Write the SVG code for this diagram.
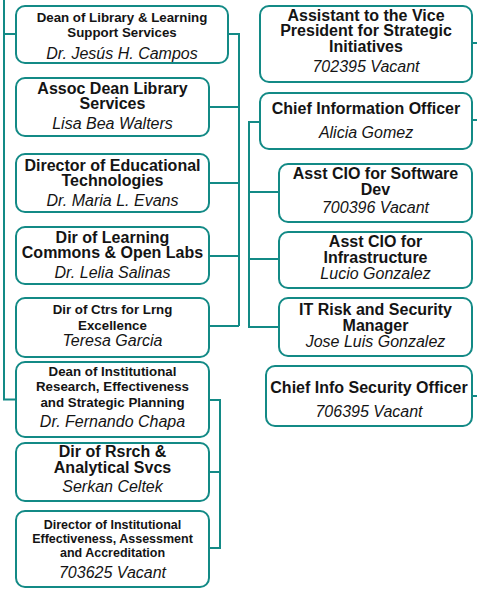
<svg xmlns="http://www.w3.org/2000/svg" width="477" height="589" viewBox="0 0 477 589">
<style>
.box{fill:#fff;stroke:#138a86;stroke-width:2}
.ln{fill:none;stroke:#138a86;stroke-width:2}
text{font-family:"Liberation Sans",Arial,sans-serif;fill:#141414;text-anchor:middle}
.t{font-weight:bold;font-size:16px}
.s{font-weight:bold;font-size:13.3px}
.x{font-weight:bold;font-size:12.5px}
.n{font-style:italic;font-size:16px}
</style>
<rect width="477" height="589" fill="#fff"/>
<g id="connectors">
<path class="ln" d="M4 0V399.5H16M4 34H16"/>
<path class="ln" d="M228 34H239V326M209 107H239M209 183H239M209 256H239M209 326H239"/>
<path class="ln" d="M209 400H220V548H209M209 472H220"/>
<path class="ln" d="M260 122H249V327H279M249 192H279M249 259H279"/>
<path class="ln" d="M472 43H477M472 120H477M472 396H477"/>
</g>
<g id="dean-library">
<rect class="box" x="16" y="6" width="212" height="57" rx="9"/>
<text class="s" x="122" y="22">Dean of Library &amp; Learning</text>
<text class="s" x="122" y="37">Support Services</text>
<text class="n" x="122" y="58.5">Dr. Jesús H. Campos</text>
</g>
<g id="assoc-dean">
<rect class="box" x="16" y="78" width="193" height="58" rx="9"/>
<text class="t" x="112.5" y="93.5">Assoc Dean Library</text>
<text class="t" x="112.5" y="109">Services</text>
<text class="n" x="112.5" y="128.5">Lisa Bea Walters</text>
</g>
<g id="dir-edtech">
<rect class="box" x="16" y="154" width="193" height="58" rx="9"/>
<text class="t" x="112.5" y="170.5">Director of Educational</text>
<text class="t" x="112.5" y="186">Technologies</text>
<text class="n" x="112.5" y="206">Dr. Maria L. Evans</text>
</g>
<g id="dir-learning-commons">
<rect class="box" x="16" y="227" width="193" height="57" rx="9"/>
<text class="t" x="112.5" y="242.5">Dir of Learning</text>
<text class="t" x="112.5" y="258.3">Commons &amp; Open Labs</text>
<text class="n" x="112.5" y="278.3">Dr. Lelia Salinas</text>
</g>
<g id="dir-ctrs">
<rect class="box" x="16" y="298" width="193" height="59" rx="9"/>
<text class="s" x="112.5" y="314.3">Dir of Ctrs for Lrng</text>
<text class="s" x="112.5" y="330">Excellence</text>
<text class="n" x="112.5" y="345.5">Teresa Garcia</text>
</g>
<g id="dean-ir">
<rect class="box" x="16" y="362" width="193" height="75" rx="9"/>
<text class="s" x="112.5" y="375.7">Dean of Institutional</text>
<text class="s" x="112.5" y="391.3">Research, Effectiveness</text>
<text class="s" x="112.5" y="407.3">and Strategic Planning</text>
<text class="n" x="112.5" y="426.7">Dr. Fernando Chapa</text>
</g>
<g id="dir-rsrch">
<rect class="box" x="16" y="443" width="193" height="58" rx="9"/>
<text class="t" x="112.5" y="457.3">Dir of Rsrch &amp;</text>
<text class="t" x="112.5" y="473.3">Analytical Svcs</text>
<text class="n" x="112.5" y="491.7">Serkan Celtek</text>
</g>
<g id="dir-ie">
<rect class="box" x="16" y="511" width="193" height="76" rx="9"/>
<text class="x" x="112.5" y="529.3">Director of Institutional</text>
<text class="x" x="112.5" y="543.3">Effectiveness, Assessment</text>
<text class="x" x="112.5" y="557.3">and Accreditation</text>
<text class="n" x="112.5" y="578.3">703625 Vacant</text>
</g>
<g id="asst-vp">
<rect class="box" x="260" y="6" width="212" height="76" rx="9"/>
<text class="t" x="366" y="21">Assistant to the Vice</text>
<text class="t" x="366" y="36.3">President for Strategic</text>
<text class="t" x="366" y="51.7">Initiatives</text>
<text class="n" x="366" y="71.7">702395 Vacant</text>
</g>
<g id="cio">
<rect class="box" x="260" y="93" width="212" height="56" rx="9"/>
<text class="t" x="366" y="114.3">Chief Information Officer</text>
<text class="n" x="366" y="137.7">Alicia Gomez</text>
</g>
<g id="asst-cio-software">
<rect class="box" x="279" y="164" width="193" height="58" rx="9"/>
<text class="t" x="375.5" y="179.3">Asst CIO for Software</text>
<text class="t" x="375.5" y="195">Dev</text>
<text class="n" x="375.5" y="213.3">700396 Vacant</text>
</g>
<g id="asst-cio-infra">
<rect class="box" x="279" y="232" width="193" height="56" rx="9"/>
<text class="t" x="375.5" y="247.3">Asst CIO for</text>
<text class="t" x="375.5" y="263.3">Infrastructure</text>
<text class="n" x="375.5" y="279.3">Lucio Gonzalez</text>
</g>
<g id="it-risk">
<rect class="box" x="279" y="298" width="193" height="58" rx="9"/>
<text class="t" x="375.5" y="315">IT Risk and Security</text>
<text class="t" x="375.5" y="330.5">Manager</text>
<text class="n" x="375.5" y="346.7">Jose Luis Gonzalez</text>
</g>
<g id="ciso">
<rect class="box" x="266" y="366" width="206" height="60" rx="9"/>
<text class="t" x="369" y="392.7">Chief Info Security Officer</text>
<text class="n" x="369" y="417.3">706395 Vacant</text>
</g>
</svg>
